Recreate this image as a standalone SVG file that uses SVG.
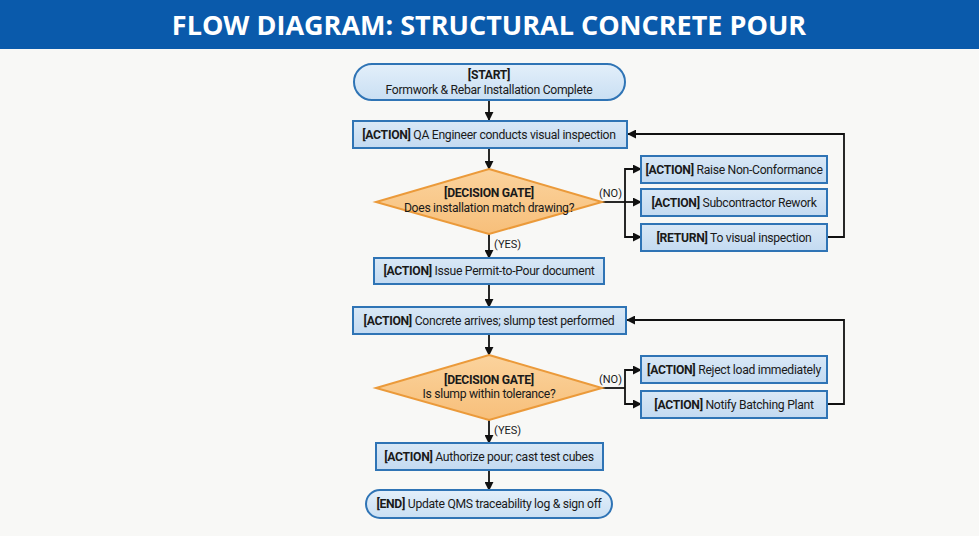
<svg xmlns="http://www.w3.org/2000/svg" width="979" height="536" viewBox="0 0 979 536">
<defs>
<marker id="ah" viewBox="0 0 10 10" refX="9" refY="5" markerWidth="9" markerHeight="9" markerUnits="userSpaceOnUse" orient="auto"><path d="M0,0 L10,5 L0,10 z" fill="#111"/></marker>
<linearGradient id="pill" x1="0" y1="0" x2="0" y2="1"><stop offset="0" stop-color="#e3effa"/><stop offset="1" stop-color="#c9dff3"/></linearGradient>
<linearGradient id="box" x1="0" y1="0" x2="0" y2="1"><stop offset="0" stop-color="#d9e8f6"/><stop offset="1" stop-color="#c3daf1"/></linearGradient>
<linearGradient id="dia" x1="0" y1="0" x2="0" y2="1"><stop offset="0" stop-color="#fbd39d"/><stop offset="1" stop-color="#f7bf7a"/></linearGradient>
</defs>
<style>
.t{font-family:Roboto,"Liberation Sans",sans-serif;font-size:12.2px;letter-spacing:-0.3px;fill:#1a1a1a;text-anchor:middle}
.b{font-weight:bold}
.box{fill:url(#box);stroke:#2f74b5;stroke-width:2}
.pill{fill:url(#pill);stroke:#2f74b5;stroke-width:2}
.dia{fill:url(#dia);stroke:#eb9a3a;stroke-width:2}
.c{fill:none;stroke:#111;stroke-width:1.8}
.a{marker-end:url(#ah)}
.lbl{font-family:Roboto,"Liberation Sans",sans-serif;font-size:11px;fill:#1a1a1a}
</style>
<rect width="979" height="536" fill="#f8f8f6"/>
<rect x="0" y="0" width="979" height="49" fill="#0a5aab"/>
<text x="489" y="35" font-family="'Open Sans','Liberation Sans',sans-serif" font-weight="bold" font-size="27" fill="#ffffff" text-anchor="middle">FLOW DIAGRAM: STRUCTURAL CONCRETE POUR</text>

<g id="connectors">
<line class="c a" x1="489" y1="100" x2="489" y2="120"/>
<line class="c a" x1="489" y1="148" x2="489" y2="169"/>
<line class="c a" x1="489" y1="234" x2="489" y2="258"/>
<line class="c a" x1="489" y1="284" x2="489" y2="307"/>
<line class="c a" x1="489" y1="334" x2="489" y2="355"/>
<line class="c a" x1="489" y1="420" x2="489" y2="443"/>
<line class="c a" x1="489" y1="470" x2="489" y2="490"/>
<polyline class="c" points="602,202 625,202"/>
<polyline class="c a" points="625,202 625,169 641,169"/>
<line class="c a" x1="625" y1="202" x2="641" y2="202"/>
<polyline class="c a" points="625,202 625,237 641,237"/>
<polyline class="c a" points="827,237 844,237 844,134 628,134"/>
<polyline class="c" points="602,388 625,388"/>
<polyline class="c a" points="625,388 625,370 641,370"/>
<polyline class="c a" points="625,388 625,404 641,404"/>
<polyline class="c a" points="827,404 844,404 844,320 627,320"/>
<text class="lbl" x="599" y="197">(NO)</text>
<text class="lbl" x="599" y="383">(NO)</text>
<text class="lbl" x="494" y="248">(YES)</text>
<text class="lbl" x="494" y="434">(YES)</text>
</g>

<g id="start">
<rect class="pill" x="354" y="64" width="271" height="36" rx="18"/>
<text class="t b" x="489" y="79">[START]</text>
<text class="t" x="489" y="94">Formwork &amp; Rebar Installation Complete</text>
</g>
<g id="inspect">
<rect class="box" x="353" y="121" width="274" height="27"/>
<text class="t" x="489" y="139"><tspan class="b">[ACTION]</tspan> QA Engineer conducts visual inspection</text>
</g>
<g id="gate1">
<polygon class="dia" points="489,169 602,202 489,234 376,202"/>
<text class="t b" x="489" y="197">[DECISION GATE]</text>
<text class="t" x="489" y="212">Does installation match drawing?</text>
</g>
<g id="ncr">
<rect class="box" x="641" y="156" width="186" height="27"/>
<text class="t" x="734" y="174"><tspan class="b">[ACTION]</tspan> Raise Non-Conformance</text>
</g>
<g id="rework">
<rect class="box" x="641" y="189" width="186" height="27"/>
<text class="t" x="734" y="207"><tspan class="b">[ACTION]</tspan> Subcontractor Rework</text>
</g>
<g id="return">
<rect class="box" x="641" y="224" width="186" height="27"/>
<text class="t" x="734" y="242"><tspan class="b">[RETURN]</tspan> To visual inspection</text>
</g>
<g id="permit">
<rect class="box" x="374" y="258" width="230" height="26"/>
<text class="t" x="489" y="275"><tspan class="b">[ACTION]</tspan> Issue Permit-to-Pour document</text>
</g>
<g id="slump">
<rect class="box" x="353" y="307" width="273" height="27"/>
<text class="t" x="489" y="325"><tspan class="b">[ACTION]</tspan> Concrete arrives; slump test performed</text>
</g>
<g id="gate2">
<polygon class="dia" points="489,355 602,388 489,420 376,388"/>
<text class="t b" x="489" y="384">[DECISION GATE]</text>
<text class="t" x="489" y="398">Is slump within tolerance?</text>
</g>
<g id="reject">
<rect class="box" x="641" y="356" width="186" height="27"/>
<text class="t" x="734" y="374"><tspan class="b">[ACTION]</tspan> Reject load immediately</text>
</g>
<g id="notify">
<rect class="box" x="641" y="391" width="186" height="27"/>
<text class="t" x="734" y="409"><tspan class="b">[ACTION]</tspan> Notify Batching Plant</text>
</g>
<g id="authorize">
<rect class="box" x="376" y="443" width="227" height="27"/>
<text class="t" x="489" y="461"><tspan class="b">[ACTION]</tspan> Authorize pour; cast test cubes</text>
</g>
<g id="end">
<rect class="pill" x="366" y="490" width="246" height="28" rx="14"/>
<text class="t" x="489" y="508"><tspan class="b">[END]</tspan> Update QMS traceability log &amp; sign off</text>
</g>
</svg>
